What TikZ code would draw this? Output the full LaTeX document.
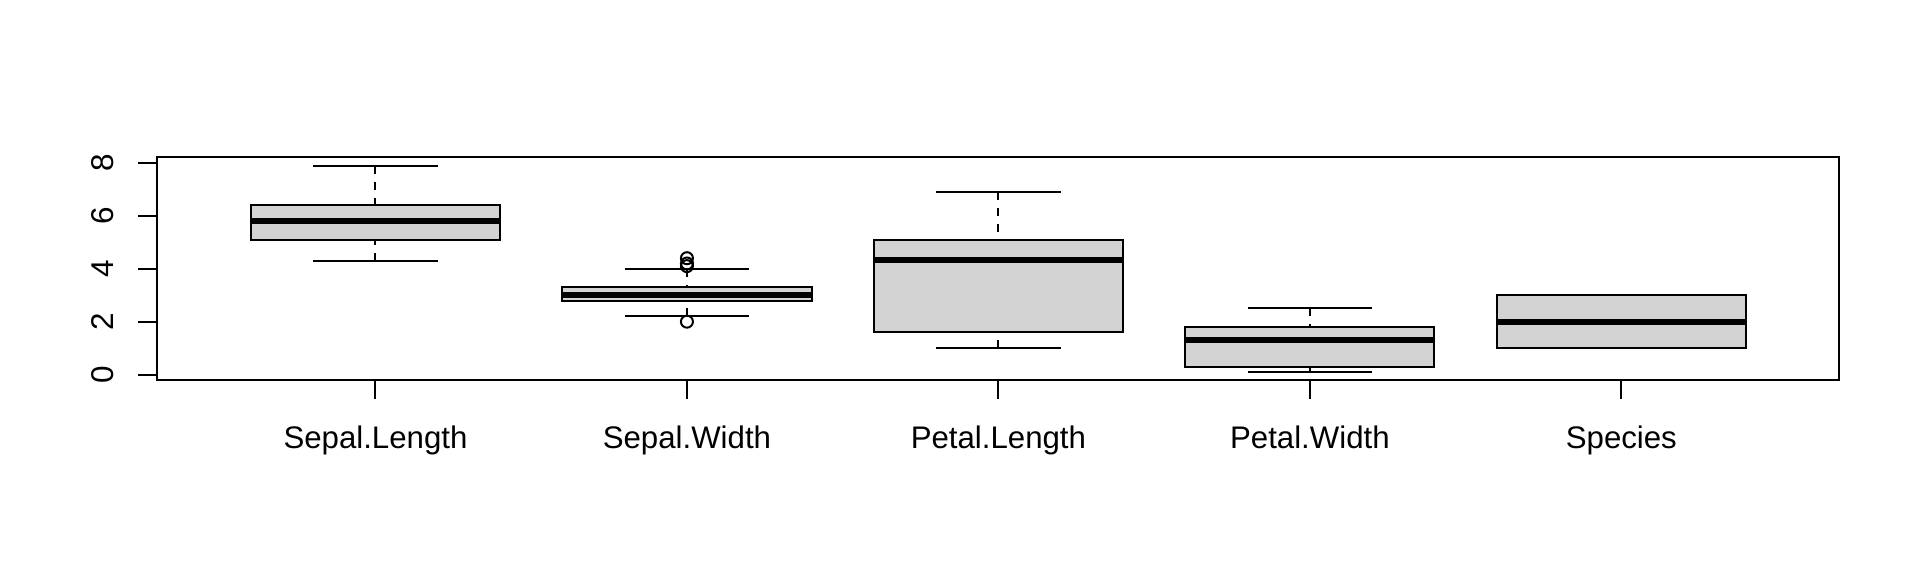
\documentclass[tikz,border=0pt]{standalone}
\usepackage{fontspec}
\setmainfont{Liberation Sans}
\definecolor{boxgray}{HTML}{D3D3D3}
\tikzset{
  frameline/.style={draw=black, line width=0.75pt},
  tickline/.style={draw=black, line width=0.75pt},
  boxbody/.style={fill=boxgray, draw=black, line width=0.75pt},
  medianline/.style={draw=black, line width=2.25pt},
  whiskerline/.style={draw=black, line width=0.75pt, dash pattern=on 3pt off 3pt},
  stapleline/.style={draw=black, line width=0.75pt},
  outlier/.style={draw=black, line width=0.75pt},
  xlab/.style={anchor=base, inner sep=0pt, font=\fontsize{11.7pt}{14pt}\selectfont},
  ylab/.style={anchor=base, rotate=90, inner sep=0pt, font=\fontsize{11.8pt}{14pt}\selectfont}
}
\begin{document}
\begin{tikzpicture}[x=1pt,y=1pt]
\useasboundingbox (0,0) rectangle (720,216);
\begin{scope}[shift={(24pt,75.544pt)}, x=116.8pt, y=9.91463pt]
  % whiskers and staples
  \foreach \i/\lo/\qa/\md/\qb/\hi in {1/4.3/5.1/5.8/6.4/7.9, 2/2.2/2.8/3.0/3.3/4.0, 3/1.0/1.6/4.35/5.1/6.9, 4/0.1/0.3/1.3/1.8/2.5}{
    \draw[whiskerline] (\i,\lo) -- (\i,\qa);
    \draw[whiskerline] (\i,\hi) -- (\i,\qb);
    \draw[stapleline] (\i-0.2,\lo) -- (\i+0.2,\lo);
    \draw[stapleline] (\i-0.2,\hi) -- (\i+0.2,\hi);
    \draw[boxbody] (\i-0.4,\qa) rectangle (\i+0.4,\qb);
    \draw[medianline] (\i-0.4,\md) -- (\i+0.4,\md);
  }
  % Species
  \draw[boxbody] (4.6,1) rectangle (5.4,3);
  \draw[medianline] (4.6,2) -- (5.4,2);
  % outliers of Sepal.Width
  \foreach \v in {4.1,4.2,4.4,2.0}{
    \draw[outlier] (2,\v) circle[radius=2.25pt];
  }
  % plot frame
  \draw[frameline] (0.3,-0.212) rectangle (5.7,8.212);
  % y axis ticks and labels
  \foreach \v in {0,2,4,6,8}{
    \draw[tickline] (0.3,\v) -- ++(-7.2pt,0);
    \node[ylab] (yl\v) at ([xshift=-16.6pt]0.3,\v) {\v};
  }
  % x axis ticks and labels
  \foreach \i/\t in {1/Sepal.Length,2/Sepal.Width,3/Petal.Length,4/Petal.Width,5/Species}{
    \draw[tickline] (\i,-0.212) -- ++(0,-7.2pt);
    \node[xlab] (xl\i) at ([yshift=-25.6pt]\i,-0.212) {\t};
  }
\end{scope}
\end{tikzpicture}
\end{document}
